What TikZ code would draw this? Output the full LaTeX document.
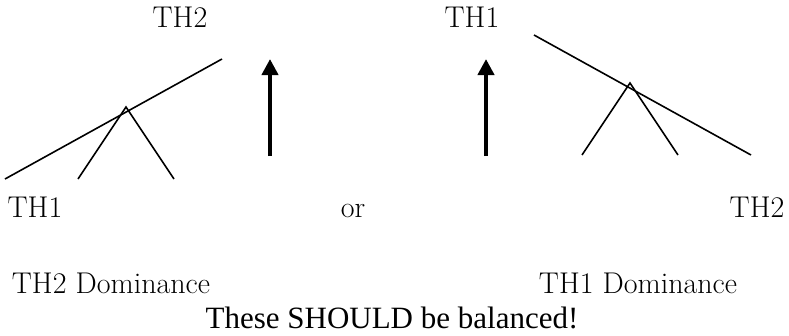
\documentclass[tikz,border=0pt]{standalone}
\usepackage{fontspec}
\newfontfamily\timesfont{Liberation Serif}
\usepackage{tikz}
\usetikzlibrary{arrows.meta, positioning}

\begin{document}
\begin{tikzpicture}[x=1pt, y=-1pt,
  etiqueta/.style={anchor=base, inner sep=0pt, font=\fontsize{30}{36}\selectfont},
  rama/.style={line width=1.6pt},
  flecha/.style={line width=4pt, -{Triangle[width=16pt,length=16pt]}}]

\useasboundingbox (0,0) rectangle (789,335);

% Etiquetas superiores
\node[etiqueta] (thdosArriba) at (180,27) {TH2};
\node[etiqueta] (thunoArriba) at (472,27) {TH1};

% Arbol izquierdo
\coordinate (barraIzqA) at (5,179);
\coordinate (barraIzqB) at (222,59);
\coordinate (apiceIzq) at (126,107);
\coordinate (pieIzqA) at (78,179);
\coordinate (pieIzqB) at (174,179);
\draw[rama] (barraIzqA) -- (barraIzqB);
\draw[rama] (pieIzqA) -- (apiceIzq) -- (pieIzqB);

% Arbol derecho
\coordinate (barraDerA) at (534,35);
\coordinate (barraDerB) at (751,155);
\coordinate (apiceDer) at (630,83);
\coordinate (pieDerA) at (582,155);
\coordinate (pieDerB) at (678,155);
\draw[rama] (barraDerA) -- (barraDerB);
\draw[rama] (pieDerA) -- (apiceDer) -- (pieDerB);

% Flechas
\coordinate (flechaIzqA) at (270,156);
\coordinate (flechaIzqB) at (270,59);
\coordinate (flechaDerA) at (486,156);
\coordinate (flechaDerB) at (486,59);
\draw[flecha] (flechaIzqA) -- (flechaIzqB);
\draw[flecha] (flechaDerA) -- (flechaDerB);

% Etiquetas inferiores
\node[etiqueta] (thunoAbajo) at (35,217) {TH1};
\node[etiqueta] (palabraOr) at (353,217) {or};
\node[etiqueta] (thdosAbajo) at (757,217) {TH2};
\node[etiqueta] (domIzq) at (111,293) {TH2 Dominance};
\node[etiqueta] (domDer) at (638,293) {TH1 Dominance};
\node[etiqueta, font=\timesfont\fontsize{31}{36}\selectfont] (aviso) at (392,328) {These SHOULD be balanced!};

\end{tikzpicture}
\end{document}
